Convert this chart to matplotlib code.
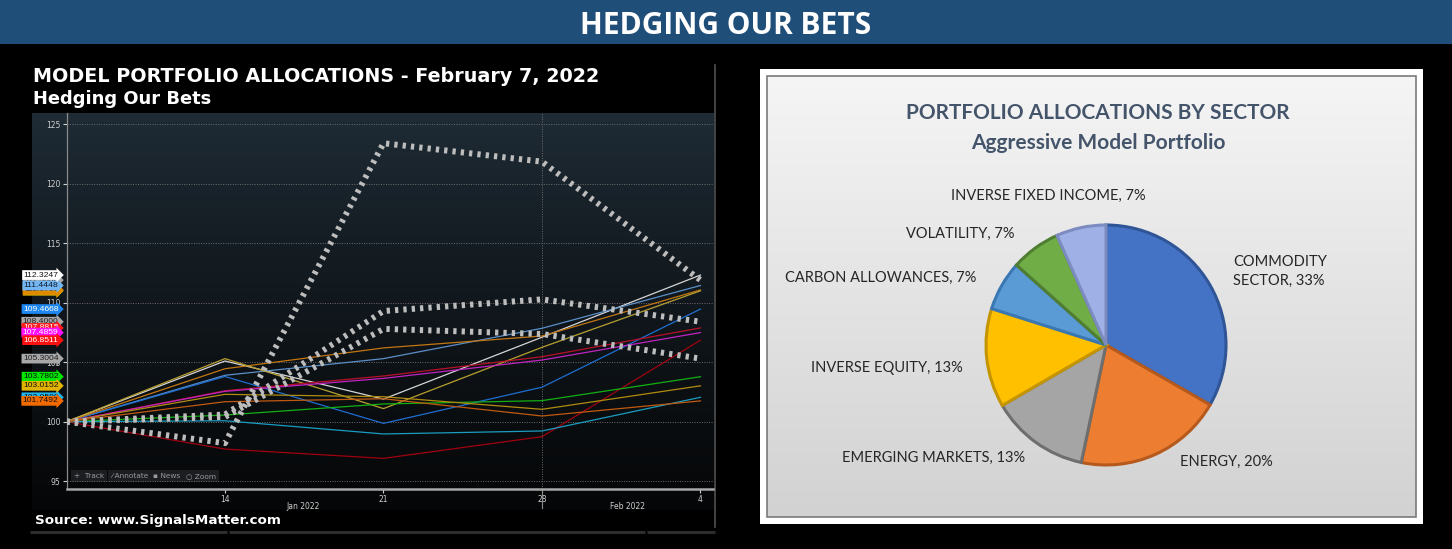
import matplotlib
matplotlib.use("Agg")
import matplotlib.pyplot as plt
import matplotlib.transforms as mtransforms
from matplotlib.colors import to_rgb
from matplotlib.patches import Rectangle
import numpy as np

W, H = 1452, 549

# ---------------------------------------------------------------------------
# Left chart: weekly closes rebased to 100 (Jan 7 .. Feb 4, 2022)
weeks = [0, 1, 2, 3, 4]
week_ticks = [1, 2, 3, 4]
week_labels = ["14", "21", "28", "4"]
month_labels = ["Jan 2022", "Feb 2022"]
month_pos = [1.49, 3.54]
y_ticks = [95, 100, 105, 110, 115, 120, 125]

white_line = [100, 105.1, 101.9, 107.1, 112.3247]
steel_line = [100, 103.9, 105.3, 107.85, 111.4448]
blue_line = [100, 103.8, 99.86, 102.9, 109.4668]
brown_line = [100, 104.45, 106.2, 107.2, 111.07]
olive_line = [100, 105.3, 101.1, 106.25, 111.0]
crimson_line = [100, 102.6, 103.84, 105.46, 107.8815]
magenta_line = [100, 102.55, 103.64, 105.18, 107.4859]
darkred_line = [100, 97.7, 96.92, 98.74, 106.8511]
green_line = [100, 100.56, 101.49, 101.77, 103.7802]
gold_line = [100, 102.3, 102.1, 101.04, 103.0152]
teal_line = [100, 100.08, 98.97, 99.22, 102.05]
orange_line = [100, 101.68, 101.93, 100.48, 101.7492]

hedge_big = [100, 98.2, 123.4, 121.85, 111.9]
hedge_mid = [100, 100.6, 109.3, 110.28, 108.4]
hedge_low = [100, 100.4, 107.8, 107.37, 105.3004]

# Right chart: sector allocations (%)
sectors = ["COMMODITY SECTOR", "ENERGY", "EMERGING MARKETS", "INVERSE EQUITY",
           "CARBON ALLOWANCES", "VOLATILITY", "INVERSE FIXED INCOME"]
shares = [33.3, 20.0, 13.3, 13.3, 6.7, 6.7, 6.7]

# ---------------------------------------------------------------------------
# styling tables built from the data above
# (values, line colour, tag colour, tag text colour, tag z-order)
thin = [
    (white_line, "#d6d6d6", "#ffffff", "#101010", 15),
    (steel_line, "#5b8fc8", "#74b6f2", "#0b1a2e", 14),
    (blue_line, "#1f6ed0", "#1e88f0", "#ffffff", 15),
    (brown_line, "#c27612", "#e08a00", "#101010", 13),
    (olive_line, "#b8a030", "#d6b400", "#101010", 12),
    (crimson_line, "#b8102a", "#ff1c1c", "#ffffff", 12),
    (magenta_line, "#c024c0", "#ff10ff", "#ffffff", 13),
    (darkred_line, "#a00010", "#ff1010", "#ffffff", 14),
    (green_line, "#12b012", "#00e600", "#101010", 15),
    (gold_line, "#b08c10", "#e0b400", "#101010", 15),
    (teal_line, "#1a9cc0", "#22b6f0", "#101010", 11),
    (orange_line, "#c05a10", "#f06a00", "#101010", 12),
]
dotted = [
    (hedge_big, "#bdbdbd", 11),
    (hedge_mid, "#bdbdbd", 11),
    (hedge_low, "#bdbdbd", 15),
]

pie_colors = ["#4472c4", "#ed7d31", "#a5a5a5", "#ffc000", "#5b9bd5", "#70ad47", "#9fb0e6"]
pie_edges = ["#2f5597", "#b55a1c", "#6e6e6e", "#c49500", "#3a78b4", "#4f7d32", "#7d8cc0"]
# label anchor (x, baseline y) in pixels, alignment
label_layout = {
    "COMMODITY SECTOR": (1233, 266, "left"),
    "ENERGY": (1226, 466, "center"),
    "EMERGING MARKETS": (934, 462, "center"),
    "INVERSE EQUITY": (887, 372, "center"),
    "CARBON ALLOWANCES": (881, 282, "center"),
    "VOLATILITY": (960, 238, "center"),
    "INVERSE FIXED INCOME": (1048, 200, "center"),
}


def vgrad(top, bottom, n=256, gamma=1.0):
    t = np.linspace(0, 1, n)[:, None] ** gamma
    c0, c1 = np.array(to_rgb(top)), np.array(to_rgb(bottom))
    return (c0 * (1 - t) + c1 * t)[:, None, :]


fig = plt.figure(figsize=(W / 100, H / 100), dpi=100, facecolor="black")

# overlay in pixel coordinates (y downwards) for backgrounds and free text
ov = fig.add_axes([0, 0, 1, 1], zorder=0)
ov.axis("off")
ov.add_patch(Rectangle((0, 0), W, 44, color="#1f4e79", lw=0))
ov.text(W / 2, 33.5, "HEDGING OUR BETS", color="white", fontsize=21.5,
        fontweight="bold", family="Open Sans", ha="center", va="baseline")

# left chart panel
ov.imshow(vgrad("#1f2c36", "#050607", gamma=0.85), extent=(32, 714, 510, 113),
          aspect="auto", interpolation="bilinear", zorder=0)
ov.plot([714.5, 714.5], [65, 527], color="#505050", lw=1.2)
for x0, x1 in [(30, 227), (229, 645), (647, 715)]:
    ov.plot([x0, x1], [531.5, 531.5], color="#2c2c2c", lw=2.2, solid_capstyle="butt")
ov.text(33, 82, "MODEL PORTFOLIO ALLOCATIONS - February 7, 2022", color="white",
        fontsize=13.8, fontweight="bold", family="DejaVu Sans", va="baseline")
ov.text(33, 104.5, "Hedging Our Bets", color="white", fontsize=12.9,
        fontweight="bold", family="DejaVu Sans", va="baseline")
ov.text(35, 524, "Source: www.SignalsMatter.com", color="white", fontsize=9.7,
        fontweight="bold", family="DejaVu Sans", va="baseline")
for x, item in [(74, "+  Track"), (111, "\u2044 Annotate"), (153, "\u25aa News"), (186, "\u25cb Zoom")]:
    ov.text(x, 476, item, color="#9a9a9a", fontsize=5.3, va="center",
            bbox=dict(boxstyle="square,pad=0.35", fc="#1b1d21", ec="none"))

# right chart panel
ov.add_patch(Rectangle((760, 69), 663, 455, color="white", lw=0))
ov.imshow(vgrad("#f5f5f5", "#d2d2d2"), extent=(767, 1416, 517, 76),
          aspect="auto", interpolation="bilinear", zorder=1)
ov.add_patch(Rectangle((767, 76), 649, 441, fill=False, ec="#7a7a7a", lw=1.2, zorder=2))
ov.text(1098, 119, "PORTFOLIO ALLOCATIONS BY SECTOR", color="#44546a", fontsize=15,
        fontweight="bold", family="Lato", ha="center", va="baseline")
ov.text(1098, 149, "Aggressive Model Portfolio", color="#44546a", fontsize=15,
        fontweight="bold", family="Lato", ha="center", va="baseline")
for name, share in zip(sectors, shares):
    x, y, ha = label_layout[name]
    lines = [f"{name}, {share:.0f}%"]
    if ha == "left":
        first, rest = name.split(" ", 1)
        lines = [first, f"{rest}, {share:.0f}%"]
    for i, line in enumerate(lines):
        ov.text(x, y + i * 19, line, color="#262626", fontsize=10.5, family="Lato",
                ha=ha, va="baseline")
ov.set_xlim(0, W)
ov.set_ylim(H, 0)

# ---------------------------------------------------------------------------
# line chart
ax = fig.add_axes([66.5 / W, 1 - 489 / H, (713 - 66.5) / W, (489 - 113) / H], zorder=2)
ax.set_facecolor("none")
for vals, color, *_ in thin:
    ax.plot(weeks, vals, color=color, lw=0.9, zorder=3)
for vals, color, _ in dotted:
    ax.plot(weeks, vals, color=color, lw=4.3, ls=(0, (0.55, 0.85)),
            dash_capstyle="butt", zorder=4)

ax.set_xlim(0, 4.079)
ax.set_ylim(94.345, 125.94)
ax.set_yticks(y_ticks)
ax.set_xticks(week_ticks, week_labels)
ax.tick_params(colors="#d0d0d0", labelsize=5.5, length=3, width=0.8, pad=1.5)
ax.yaxis.grid(True, color="#6c6c6c", ls=(0, (1, 1.5)), lw=0.7)
ax.axvline(3, color="#6c6c6c", ls=(0, (1, 1.5)), lw=0.7)
for side in ["top", "right"]:
    ax.spines[side].set_visible(False)
ax.spines["left"].set_color("#8a8a8a")
ax.spines["left"].set_linewidth(0.9)
ax.spines["bottom"].set_color("#a8a8a8")
ax.spines["bottom"].set_linewidth(1.8)

blend = mtransforms.blended_transform_factory(ax.transData, ax.transAxes)
ax.plot([3, 3], [0, -0.05], color="#8a8a8a", lw=0.8, transform=blend, clip_on=False)
for pos, lab in zip(month_pos, month_labels):
    ax.text(pos, -0.035, lab, color="#d0d0d0", fontsize=5.5, ha="center", va="top",
            transform=blend)

# last-value tags on the left of the axis
tag_tf = mtransforms.blended_transform_factory(ov.transData, ax.transData)
tags = [(vals[-1], tc, fg, z) for vals, _, tc, fg, z in thin]
tags += [(vals[-1], "#a8a8a8", "#202020", z) for vals, _, z in dotted]
for val, bg, fg, z in tags:
    ax.text(58.5, val, f"{val:.4f}", transform=tag_tf, color=fg, fontsize=6.1,
            family="Liberation Sans", va="center", ha="right",
            zorder=z, clip_on=False,
            bbox=dict(boxstyle="rarrow,pad=0.16", fc=bg, ec="none"))

# ---------------------------------------------------------------------------
# pie chart in pixel coordinates (y upwards)
pie_ax = fig.add_axes([760 / W, 1 - 524 / H, 663 / W, 455 / H], zorder=3)
wedges, _ = pie_ax.pie(shares, colors=pie_colors, startangle=90, counterclock=False,
                       center=(1106, H - 345), radius=120,
                       wedgeprops=dict(linewidth=2.2))
for wdg, ec in zip(wedges, pie_edges):
    wdg.set_edgecolor(ec)
pie_ax.set_xlim(760, 1423)
pie_ax.set_ylim(H - 524, H - 69)
pie_ax.set_aspect("auto")
pie_ax.set_facecolor("none")
pie_ax.axis("off")

fig.savefig("out.png", dpi=100, facecolor="black")
